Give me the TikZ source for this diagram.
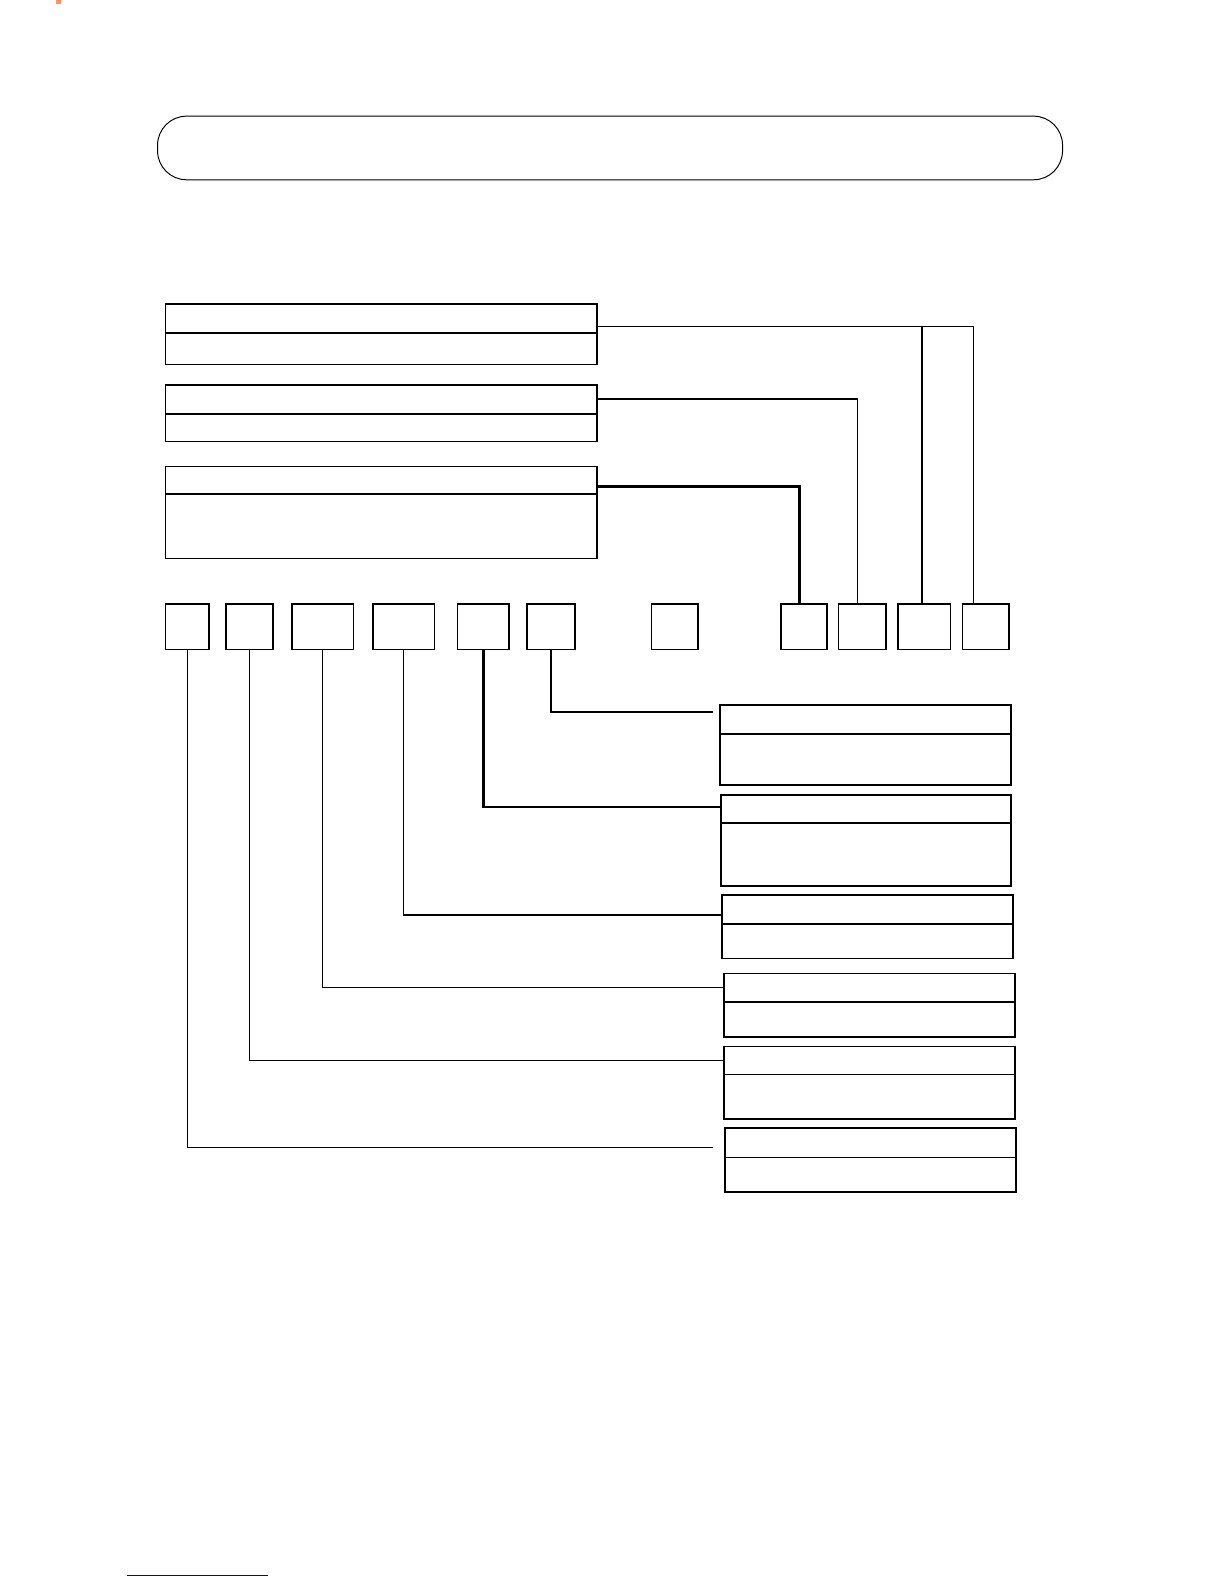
\documentclass[tikz,border=0pt]{standalone}
\usetikzlibrary{calc,positioning}
\tikzset{
  boxline/.style={draw, line width=2.3pt, inner sep=0pt, outer sep=0pt},
  wire/.style={line width=1.9pt},
  wirethick/.style={line width=4pt},
}
% box from (x1,y1) to (x2,y2), in pixels of the page
\newcommand{\pxbox}[6][]{%
  \node [boxline,#1,minimum width={0.0505cm*(#5-#3)},minimum height={0.0505cm*(#6-#4)}] (#2) at ({(#3+#5)/2},{(#4+#6)/2}) {};}

\begin{document}
\begin{tikzpicture}[x=0.0505cm,y=-0.0505cm]
	\useasboundingbox (0,0) rectangle (1211.9,1568.3);
	\fill [orange!60!red!60] (55,0) rectangle (60,4);
	\pxbox[rounded corners=1.45cm, line width=1.4pt]{title}{156}{115}{1052}{178}
	% boxes on the left
	\pxbox{A1}{164}{301}{591}{330}
	\pxbox{A2}{164}{330}{591}{361}
	\pxbox{B1}{164}{381}{591}{410}
	\pxbox{B2}{164}{410}{591}{437}
	\pxbox{C1}{164}{462}{591}{489}
	\pxbox{C2}{164}{489}{591}{553}
	% row of key boxes
	\foreach \n/\l/\r in {1/164/207, 2/224/270, 3/289/350, 4/369/430, 5/453/504, 6/522/569, 7/645/691, 8/773/819, 9/830/877, 10/889/941, 11/953/999}
		{\pxbox{k\n}{\l}{598}{\r}{643}}
	% boxes on the right
	\foreach \n/\l/\r/\t/\m/\b in {1/713/1001/698/727/777, 2/714/1001/787/815/877, 3/715/1003/886/915/949, 4/717/1005/964/992/1027, 5/717/1005/1036/1064/1108, 6/718/1006/1117/1146/1180}
		{\pxbox{Rh\n}{\l}{\t}{\r}{\m}
		 \pxbox{Rb\n}{\l}{\m}{\r}{\b}}
	% connectors above the row
	\draw [wire] (A1.east |- 0,323) -| ([xshift=0.55cm]k11.north west);
	\draw [wire] ([xshift=1.2cm]k10.north west) -- ([xshift=1.2cm]k10.north west |- 0,323);
	\draw [wire] (B1.east |- 0,395) -| ([xshift=0.95cm]k9.north west);
	\draw [wirethick] (C1.east |- 0,482) -| ([xshift=0.95cm]k8.north west);
	% connectors below the row
	\draw [wire] (k1.south) |- ([xshift=-0.6cm]Rh6.west |- 0,1136);
	\draw [wire] (k2.south) |- (Rh5.west);
	\draw [wire] (k3.south) |- (Rh4.west);
	\draw [wire] (k4.south) |- (Rh3.west |- 0,906);
	\draw [wirethick] (k5.south) |- (Rh2.west |- 0,799);
	\draw [wirethick] (k6.south) |- ([xshift=-0.35cm]Rh1.west |- 0,705);
	\draw [line width=2pt, blue!70!black] (126,1560) -- (265,1560);
\end{tikzpicture}
\end{document}
